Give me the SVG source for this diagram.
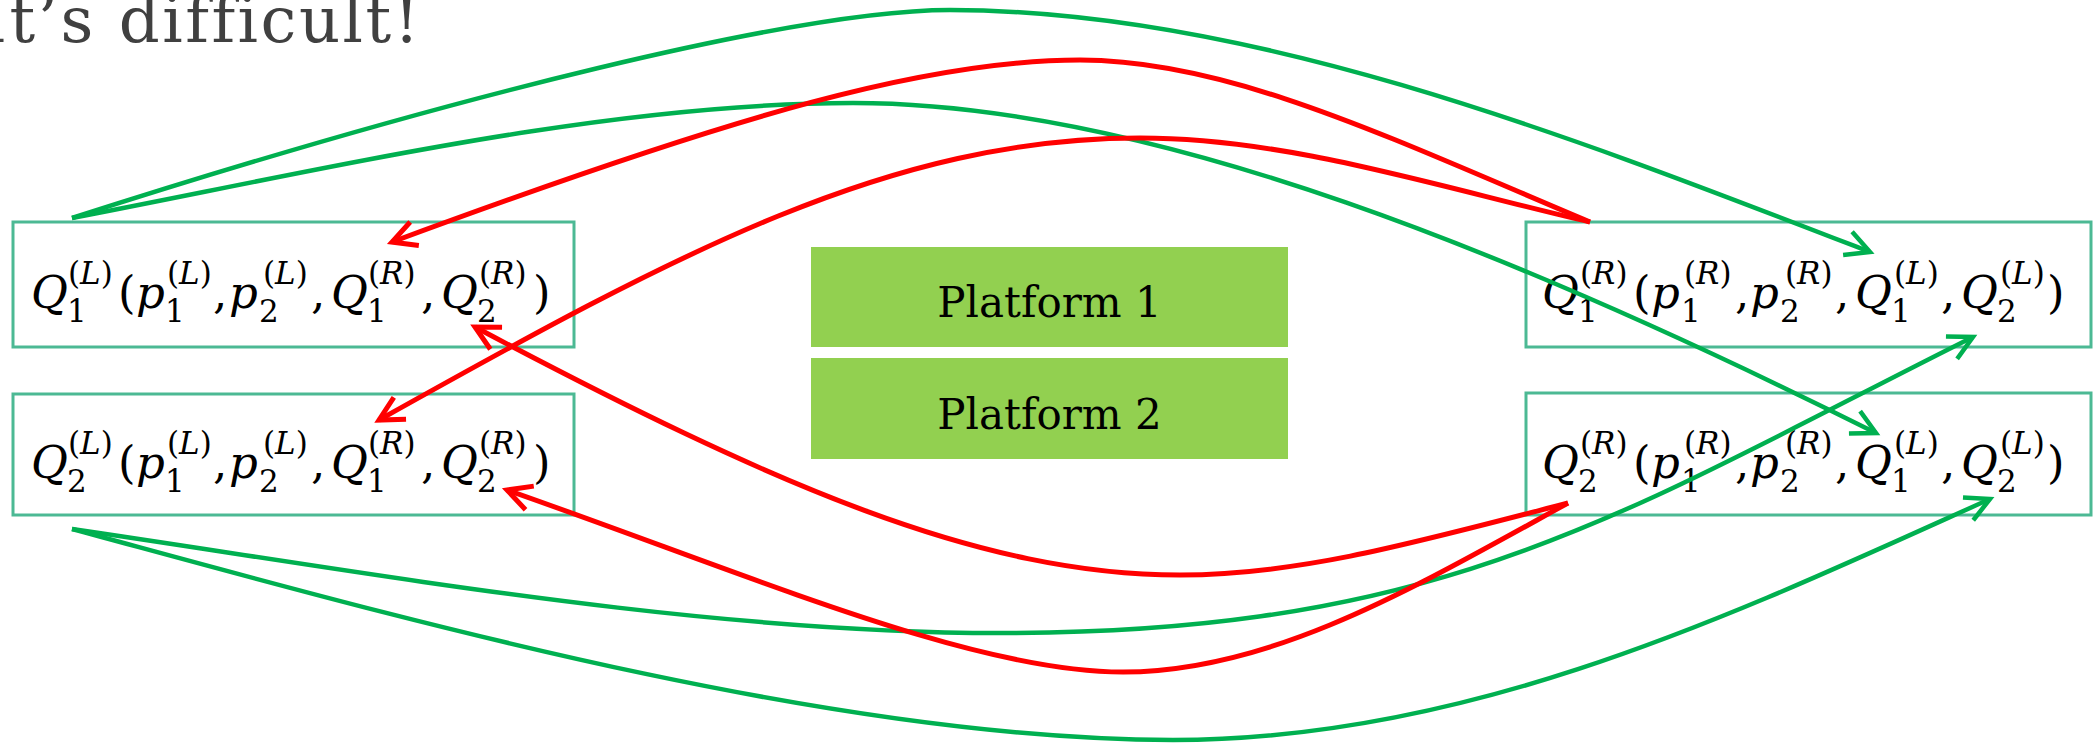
<svg xmlns="http://www.w3.org/2000/svg" width="2093" height="744" viewBox="0 0 2093 744">
<style>
.box{fill:#fff;stroke:#4CB994;stroke-width:3}
.plat{fill:#92D050}
.m{font-family:"DejaVu Serif","Liberation Serif",serif;fill:#000}
.b{font-size:45px}
.s{font-size:31px}
.i{font-style:italic}
.pt{font-family:"DejaVu Serif","Liberation Serif",serif;font-size:42px;fill:#000;text-anchor:middle}
.title{font-family:"DejaVu Serif","Liberation Serif",serif;font-size:64px;fill:#404040;letter-spacing:2.5px}
.g{fill:none;stroke:#00B050;stroke-width:4.5}
.r{fill:none;stroke:#FF0000;stroke-width:5}
</style>
<defs>
<marker id="ag" markerUnits="userSpaceOnUse" markerWidth="40" markerHeight="40" viewBox="-30 -20 40 40" refX="0" refY="0" orient="auto" overflow="visible"><path d="M-24,-12.5 L0,0 L-24,12.5" fill="none" stroke="#00B050" stroke-width="4.5"/></marker>
<marker id="ar" markerUnits="userSpaceOnUse" markerWidth="40" markerHeight="40" viewBox="-30 -20 40 40" refX="0" refY="0" orient="auto" overflow="visible"><path d="M-24,-12.5 L0,0 L-24,12.5" fill="none" stroke="#FF0000" stroke-width="5"/></marker>
</defs>
<rect width="2093" height="744" fill="#fff"/>
<text class="title" x="422" y="42" text-anchor="end">It’s difficult!</text>

<g id="nodeL1">
<rect class="box" x="13" y="222" width="561" height="125"/>
<text class="m"><tspan class="b i" x="31" y="308">Q</tspan><tspan class="s" x="67" y="322">1</tspan><tspan class="s" x="68" y="284">(<tspan class="i">L</tspan>)</tspan><tspan class="b" x="118" y="308">(</tspan><tspan class="b i" x="136" y="308">p</tspan><tspan class="s" x="165" y="322">1</tspan><tspan class="s" x="167" y="284">(<tspan class="i">L</tspan>)</tspan><tspan class="b" x="213" y="308">,</tspan><tspan class="b i" x="229" y="308">p</tspan><tspan class="s" x="259" y="322">2</tspan><tspan class="s" x="263" y="284">(<tspan class="i">L</tspan>)</tspan><tspan class="b" x="311" y="308">,</tspan><tspan class="b i" x="331" y="308">Q</tspan><tspan class="s" x="367" y="322">1</tspan><tspan class="s" x="368" y="284">(<tspan class="i">R</tspan>)</tspan><tspan class="b" x="421" y="308">,</tspan><tspan class="b i" x="441" y="308">Q</tspan><tspan class="s" x="477" y="322">2</tspan><tspan class="s" x="479" y="284">(<tspan class="i">R</tspan>)</tspan><tspan class="b" x="533" y="308">)</tspan></text>
</g>

<g id="nodeL2">
<rect class="box" x="13" y="394" width="561" height="121"/>
<text class="m"><tspan class="b i" x="31" y="478">Q</tspan><tspan class="s" x="67" y="492">2</tspan><tspan class="s" x="68" y="454">(<tspan class="i">L</tspan>)</tspan><tspan class="b" x="118" y="478">(</tspan><tspan class="b i" x="136" y="478">p</tspan><tspan class="s" x="165" y="492">1</tspan><tspan class="s" x="167" y="454">(<tspan class="i">L</tspan>)</tspan><tspan class="b" x="213" y="478">,</tspan><tspan class="b i" x="229" y="478">p</tspan><tspan class="s" x="259" y="492">2</tspan><tspan class="s" x="263" y="454">(<tspan class="i">L</tspan>)</tspan><tspan class="b" x="311" y="478">,</tspan><tspan class="b i" x="331" y="478">Q</tspan><tspan class="s" x="367" y="492">1</tspan><tspan class="s" x="368" y="454">(<tspan class="i">R</tspan>)</tspan><tspan class="b" x="421" y="478">,</tspan><tspan class="b i" x="441" y="478">Q</tspan><tspan class="s" x="477" y="492">2</tspan><tspan class="s" x="479" y="454">(<tspan class="i">R</tspan>)</tspan><tspan class="b" x="533" y="478">)</tspan></text>
</g>

<g id="nodeR1">
<rect class="box" x="1526" y="222" width="565" height="125"/>
<text class="m"><tspan class="b i" x="1542" y="308">Q</tspan><tspan class="s" x="1578" y="322">1</tspan><tspan class="s" x="1580" y="284">(<tspan class="i">R</tspan>)</tspan><tspan class="b" x="1633" y="308">(</tspan><tspan class="b i" x="1651" y="308">p</tspan><tspan class="s" x="1681" y="322">1</tspan><tspan class="s" x="1684" y="284">(<tspan class="i">R</tspan>)</tspan><tspan class="b" x="1735" y="308">,</tspan><tspan class="b i" x="1750" y="308">p</tspan><tspan class="s" x="1780" y="322">2</tspan><tspan class="s" x="1785" y="284">(<tspan class="i">R</tspan>)</tspan><tspan class="b" x="1835" y="308">,</tspan><tspan class="b i" x="1855" y="308">Q</tspan><tspan class="s" x="1891" y="322">1</tspan><tspan class="s" x="1894" y="284">(<tspan class="i">L</tspan>)</tspan><tspan class="b" x="1941" y="308">,</tspan><tspan class="b i" x="1961" y="308">Q</tspan><tspan class="s" x="1997" y="322">2</tspan><tspan class="s" x="2000" y="284">(<tspan class="i">L</tspan>)</tspan><tspan class="b" x="2047" y="308">)</tspan></text>
</g>

<g id="nodeR2">
<rect class="box" x="1526" y="393" width="565" height="122"/>
<text class="m"><tspan class="b i" x="1542" y="478">Q</tspan><tspan class="s" x="1578" y="492">2</tspan><tspan class="s" x="1580" y="454">(<tspan class="i">R</tspan>)</tspan><tspan class="b" x="1633" y="478">(</tspan><tspan class="b i" x="1651" y="478">p</tspan><tspan class="s" x="1681" y="492">1</tspan><tspan class="s" x="1684" y="454">(<tspan class="i">R</tspan>)</tspan><tspan class="b" x="1735" y="478">,</tspan><tspan class="b i" x="1750" y="478">p</tspan><tspan class="s" x="1780" y="492">2</tspan><tspan class="s" x="1785" y="454">(<tspan class="i">R</tspan>)</tspan><tspan class="b" x="1835" y="478">,</tspan><tspan class="b i" x="1855" y="478">Q</tspan><tspan class="s" x="1891" y="492">1</tspan><tspan class="s" x="1894" y="454">(<tspan class="i">L</tspan>)</tspan><tspan class="b" x="1941" y="478">,</tspan><tspan class="b i" x="1961" y="478">Q</tspan><tspan class="s" x="1997" y="492">2</tspan><tspan class="s" x="2000" y="454">(<tspan class="i">L</tspan>)</tspan><tspan class="b" x="2047" y="478">)</tspan></text>
</g>

<g id="platform1">
<rect class="plat" x="811" y="247" width="477" height="100"/>
<text class="pt" x="1049.5" y="317">Platform 1</text>
</g>
<g id="platform2">
<rect class="plat" x="811" y="358" width="477" height="101"/>
<text class="pt" x="1049.5" y="429">Platform 2</text>
</g>

<g id="connectors">
<path class="g" marker-end="url(#ag)" d="M72,218 C452,96 800,10 950,10 C1250,10 1570,136 1870,252"/>
<path class="g" marker-end="url(#ag)" d="M72,218 C322,170 603,103 853,103 C1153,103 1526,258 1876,433"/>
<path class="g" marker-end="url(#ag)" d="M72,529 C372,573 700,633 1000,633 C1450,633 1623,512 1973,337"/>
<path class="g" marker-end="url(#ag)" d="M72,529 C372,610 823,740 1173,740 C1473,740 1740,611.5 1990,499"/>
<path class="r" marker-end="url(#ar)" d="M1590,222 C1390,138 1230,60 1080,60 C930,60 742,112.5 392,242"/>
<path class="r" marker-end="url(#ar)" d="M1590,222 C1440,187.5 1290,138 1140,138 C890,138 679,252 379,420"/>
<path class="r" marker-end="url(#ar)" d="M1568,503 C1418,542 1300,575 1180,575 C980,575 775,486 475,327"/>
<path class="r" marker-end="url(#ar)" d="M1568,503 C1418,585.5 1273,672 1123,672 C973,672 757,577.5 507,490"/>
</g>
</svg>
